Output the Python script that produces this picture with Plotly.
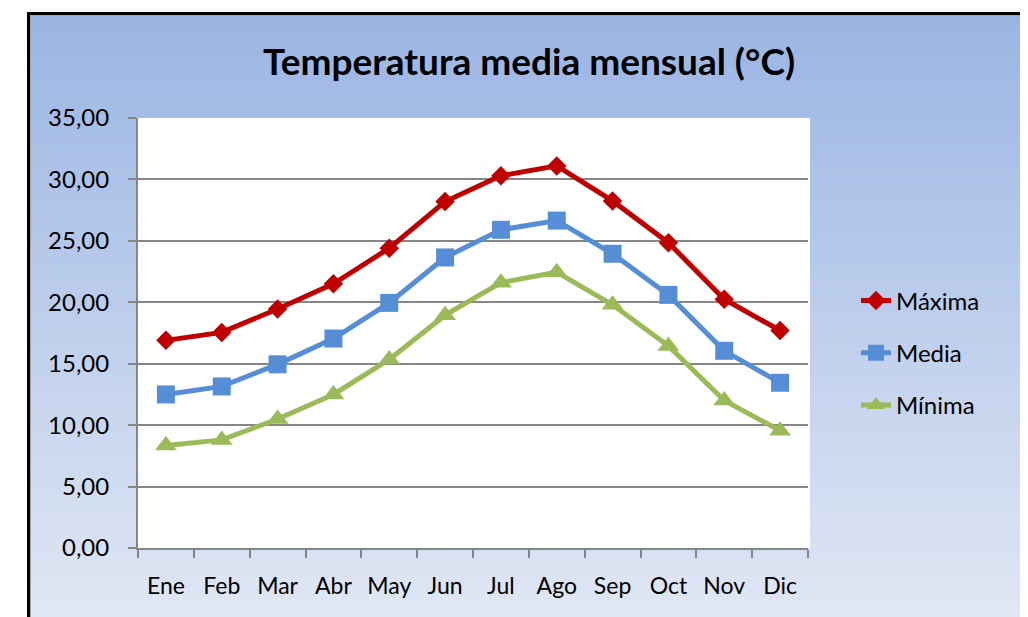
import plotly.graph_objects as go

meses = ["Ene", "Feb", "Mar", "Abr", "May", "Jun", "Jul", "Ago", "Sep", "Oct", "Nov", "Dic"]
maxima = [16.9, 17.55, 19.45, 21.5, 24.4, 28.2, 30.3, 31.1, 28.25, 24.85, 20.25, 17.7]
media = [12.5, 13.15, 14.95, 17.05, 19.95, 23.65, 25.9, 26.65, 23.95, 20.6, 16.05, 13.45]
minima = [8.35, 8.8, 10.5, 12.5, 15.35, 18.95, 21.6, 22.45, 19.8, 16.45, 12.0, 9.55]
y_ticks = [0, 5, 10, 15, 20, 25, 30, 35]

OFF = 8  # page body margin
PW, PH = 1028, 617
W, H = PW - OFF, PH - OFF
# plot area in page pixels
L, R, T, B = 138, 808, 118, 548
FONT = "Lato"


def px_x(p):
    return (p - L) / (R - L)


def px_y(p):
    return (B - p) / (B - T)


fig = go.Figure()
fig.add_trace(go.Scatter(x=meses, y=maxima, name="Máxima", mode="lines+markers",
                         line=dict(color="#C00000", width=5),
                         marker=dict(symbol="diamond", size=15, color="#C00000"),
                         legendgroup="a"))
fig.add_trace(go.Scatter(x=meses, y=media, name="Media", mode="lines+markers",
                         line=dict(color="#558ED5", width=5),
                         marker=dict(symbol="square", size=18, color="#558ED5"),
                         legendgroup="b"))
fig.add_trace(go.Scatter(x=meses, y=minima, name="Mínima", mode="lines+markers",
                         line=dict(color="#9BBB59", width=5),
                         marker=dict(symbol="triangle-up", size=19, color="#9BBB59"),
                         legendgroup="c"))

shapes = []
# black outer frame
shapes.append(dict(type="rect", xref="paper", yref="paper", layer="below",
                   x0=px_x(28.5), x1=px_x(1100), y0=px_y(700), y1=px_y(13.5),
                   line=dict(color="black", width=3), fillcolor="rgba(0,0,0,0)"))
shapes.append(dict(type="rect", xref="paper", yref="paper", layer="below",
                   x0=px_x(30.5), x1=px_x(1100), y0=px_y(700), y1=px_y(15.5),
                   line=dict(color="#A6A6A6", width=1), fillcolor="rgba(0,0,0,0)"))
# gradient background bands
top_c = (155, 181, 227)
bot_c = (224, 231, 244)
y_start, y_end = 16, 620
n = 80
for i in range(n):
    f = i / (n - 1)
    c = tuple(int(round(top_c[k] + (bot_c[k] - top_c[k]) * f)) for k in range(3))
    ya = y_start + (y_end - y_start) * i / n
    yb = y_start + (y_end - y_start) * (i + 1) / n + 1
    shapes.append(dict(type="rect", xref="paper", yref="paper", layer="below",
                       x0=px_x(31), x1=px_x(1100), y0=px_y(yb), y1=px_y(ya),
                       line=dict(width=0), fillcolor="rgb(%d,%d,%d)" % c))
# white plot area
shapes.append(dict(type="rect", xref="paper", yref="paper", layer="below",
                   x0=0, x1=px_x(810), y0=0, y1=1,
                   line=dict(width=0), fillcolor="white"))

fig.update_layout(
    width=W, height=H,
    margin=dict(l=L - OFF, r=PW - R, t=T - OFF, b=PH - B, autoexpand=False),
    paper_bgcolor="white",
    plot_bgcolor="white",
    separators=",.",
    font=dict(family=FONT, color="black", size=24),
    title=dict(text="<b>Temperatura media mensual (°C)</b>",
               x=(529 - OFF) / W, xref="container", xanchor="center",
               y=1 - (62 - OFF) / H, yref="container", yanchor="middle",
               font=dict(family=FONT, size=37, color="black")),
    shapes=shapes,
    showlegend=True,
    legend=dict(x=px_x(856), xanchor="left", y=px_y(353), yanchor="middle",
                bgcolor="rgba(0,0,0,0)", font=dict(size=24, color="black"),
                tracegroupgap=18),
    xaxis=dict(type="category", range=[-0.5, 11.5], showgrid=False,
               showline=True, linecolor="#868686", linewidth=2,
               ticks="outside", tickson="boundaries", ticklen=8,
               tickcolor="#868686", tickwidth=2, tickangle=0, automargin=False,
               ticklabelstandoff=16,
               tickfont=dict(family=FONT, size=23, color="black")),
    yaxis=dict(range=[0, 35], tickvals=y_ticks, tickformat=".2f",
               showgrid=True, gridcolor="#868686", gridwidth=2,
               showline=True, linecolor="#868686", linewidth=2,
               zeroline=False, automargin=False,
               ticks="outside", ticklen=8, tickcolor="#868686", tickwidth=2,
               ticklabelstandoff=14,
               tickfont=dict(family=FONT, size=24, color="black")),
)

fig.write_html("out.html")
